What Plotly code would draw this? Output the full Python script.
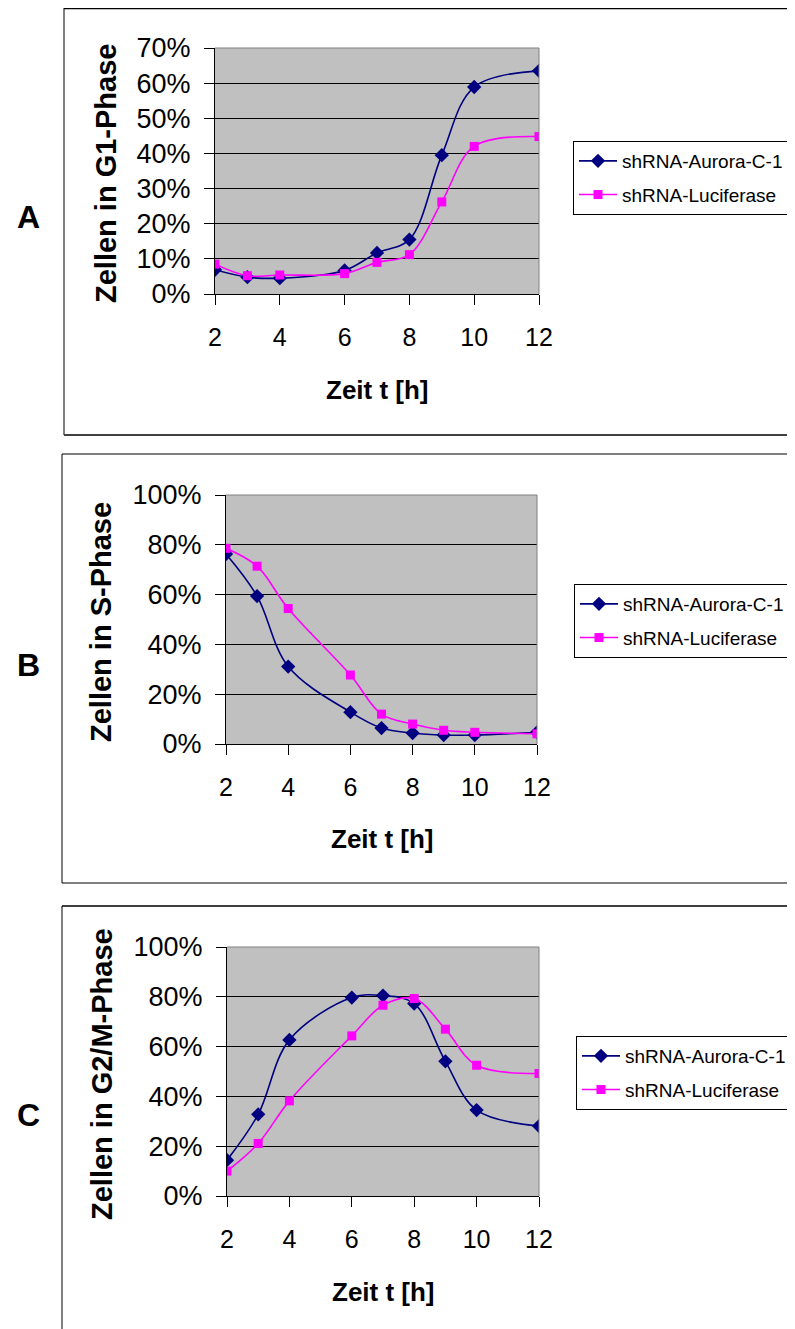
import plotly.graph_objects as go

# ---------------- data ----------------
hours = [2, 3, 4, 6, 7, 8, 9, 10, 12]
series_names = ["shRNA-Aurora-C-1", "shRNA-Luciferase"]

g1_aurora = [6.9, 4.8, 4.5, 6.7, 11.7, 15.5, 39.5, 58.9, 63.5]
g1_luc = [8.5, 5.2, 5.4, 5.8, 9.0, 11.2, 26.2, 42.0, 44.8]

s_aurora = [76.3, 59.4, 31.1, 12.8, 6.4, 4.4, 3.6, 3.6, 4.7]
s_luc = [78.6, 71.4, 54.4, 27.7, 12.0, 8.0, 5.5, 4.7, 4.1]

g2m_aurora = [14.4, 32.8, 62.7, 79.7, 80.5, 77.3, 54.1, 34.5, 28.1]
g2m_luc = [10.0, 21.1, 38.2, 64.3, 76.6, 79.3, 67.0, 52.5, 49.2]

panel_letters = ["A", "B", "C"]
y_titles = ["Zellen in G1-Phase", "Zellen in S-Phase", "Zellen in G2/M-Phase"]
x_title = "Zeit t [h]"
x_ticks = [2, 4, 6, 8, 10, 12]
y_max = [70, 100, 100]
y_dtick = [10, 20, 20]

# ---------------- layout geometry (pixels) ----------------
W, H = 795, 1329
OFF = 8  # page body margin
FONT = "Liberation Sans, Arial, sans-serif"
NAVY = "#000080"
MAGENTA = "#FF00FF"


def px(x):
    return (x - OFF) / W


def py(y):
    return 1 - (y - OFF) / H


# plot areas: (left, right, top, bottom)
areas = [(215, 539, 48, 294), (226, 537, 495, 744), (227, 539, 947, 1196)]
legend_pos = [(573, 141), (574, 584), (576, 1036)]
letter_pos = [(28, 217), (28, 665), (28, 1115)]
ytitle_pos = [(106, 174), (101, 622), (102, 1074)]
xtitle_pos = [(377, 390), (382, 839), (383, 1292)]

fig = go.Figure()

data = [(g1_aurora, g1_luc), (s_aurora, s_luc), (g2m_aurora, g2m_luc)]
for i, (aur, luc) in enumerate(data):
    sfx = "" if i == 0 else str(i + 1)
    leg = "legend" + sfx
    fig.add_trace(go.Scatter(
        x=hours, y=aur, name=series_names[0], mode="lines+markers",
        line=dict(color=NAVY, width=1.6, shape="spline", smoothing=1),
        marker=dict(symbol="diamond", size=11, color=NAVY),
        xaxis="x" + sfx, yaxis="y" + sfx, legend=leg, legendgroup=f"a{i}",
    ))
    fig.add_trace(go.Scatter(
        x=hours, y=luc, name=series_names[1], mode="lines+markers",
        line=dict(color=MAGENTA, width=1.6, shape="spline", smoothing=1),
        marker=dict(symbol="square", size=9, color=MAGENTA),
        xaxis="x" + sfx, yaxis="y" + sfx, legend=leg, legendgroup=f"l{i}",
    ))

layout = dict(
    width=W, height=H, margin=dict(l=0, r=0, t=0, b=0, pad=0, autoexpand=False),
    paper_bgcolor="white", plot_bgcolor="#C0C0C0",
    font=dict(family=FONT, color="black"),
    showlegend=True,
)

shapes = []
annotations = []
for i in range(3):
    sfx = "" if i == 0 else str(i + 1)
    l, r, t, b = areas[i]
    layout["xaxis" + sfx] = dict(
        domain=[px(l), px(r)], anchor="y" + sfx, range=[2, 12],
        tickvals=x_ticks, ticks="outside", ticklen=10, tickcolor="black",
        showgrid=False, zeroline=False, showline=True, linecolor="black",
        linewidth=1, tickfont=dict(size=25, family=FONT), ticklabelstandoff=11,
        automargin=False,
    )
    layout["yaxis" + sfx] = dict(
        domain=[py(b), py(t)], anchor="x" + sfx, range=[0, y_max[i]],
        dtick=y_dtick[i], tick0=0, ticksuffix="%", ticks="outside", ticklen=10,
        tickcolor="black", showgrid=True, gridcolor="black", gridwidth=1,
        zeroline=False, showline=True, linecolor="black", linewidth=1,
        tickfont=dict(size=27, family=FONT), ticklabelstandoff=8,
        automargin=False,
    )
    lx, ly = legend_pos[i]
    layout["legend" + sfx] = dict(
        x=px(lx), y=py(ly), xanchor="left", yanchor="top",
        bordercolor="black", borderwidth=1, bgcolor="white",
        font=dict(size=19, family=FONT), traceorder="grouped",
        tracegroupgap=6, itemwidth=38,
    )
    # plot-area border (top and right, grey)
    xd, yd = "x" + sfx + " domain", "y" + sfx + " domain"
    shapes.append(dict(type="line", xref=xd, yref=yd, x0=0, x1=1, y0=1, y1=1,
                       line=dict(color="#808080", width=1)))
    shapes.append(dict(type="line", xref=xd, yref=yd, x0=1, x1=1, y0=0, y1=1,
                       line=dict(color="#808080", width=1)))
    # texts
    ax, ay = letter_pos[i]
    annotations.append(dict(text=f"<b>{panel_letters[i]}</b>", x=px(ax), y=py(ay),
                            xref="paper", yref="paper", showarrow=False,
                            xanchor="center", yanchor="middle",
                            font=dict(size=32, family=FONT)))
    tx, ty = ytitle_pos[i]
    annotations.append(dict(text=f"<b>{y_titles[i]}</b>", x=px(tx), y=py(ty),
                            xref="paper", yref="paper", showarrow=False,
                            xanchor="center", yanchor="middle",
                            textangle=-90, font=dict(size=29, family=FONT)))
    xx, xy = xtitle_pos[i]
    annotations.append(dict(text=f"<b>{x_title}</b>", x=px(xx), y=py(xy),
                            xref="paper", yref="paper", showarrow=False,
                            xanchor="center", yanchor="middle",
                            font=dict(size=26, family=FONT)))


# outer panel frames
def pline(x0, y0, x1, y1, color="black", width=1):
    return dict(type="line", xref="paper", yref="paper",
                x0=px(x0), y0=py(y0), x1=px(x1), y1=py(y1),
                line=dict(color=color, width=width))


shapes += [
    pline(64, 8.5, 810, 8.5, "black", 1.5),
    pline(64, 8, 64, 435, "black", 1),
    pline(64, 435, 810, 435, "#404040", 2),
    pline(62, 454, 810, 454, "black", 1),
    pline(62, 454, 62, 883, "black", 1),
    pline(62, 883, 810, 883, "black", 1),
    pline(62, 906, 810, 906, "#404040", 2),
    pline(62, 906, 62, 1345, "black", 1),
]

layout["shapes"] = shapes
layout["annotations"] = annotations
fig.update_layout(**layout)
fig.write_html("out.html")
